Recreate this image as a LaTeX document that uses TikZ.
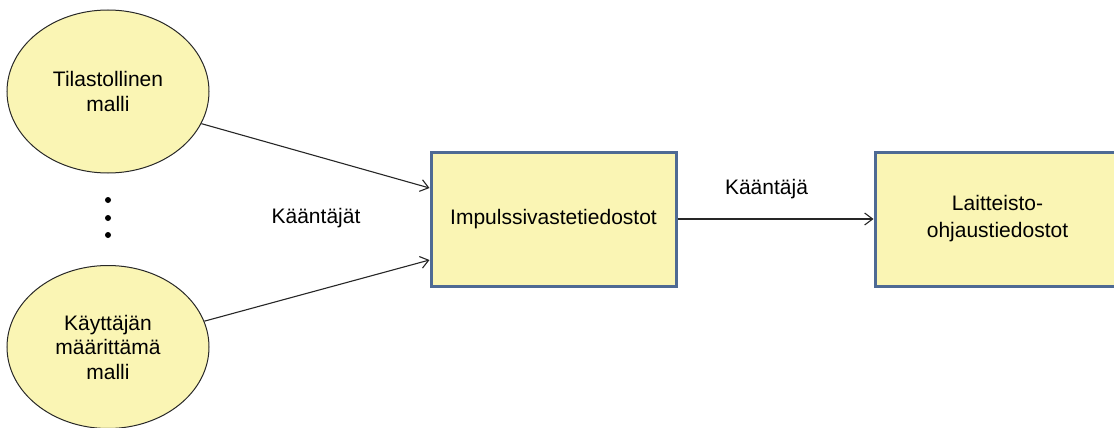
\documentclass[tikz,border=0pt]{standalone}
\usepackage{fontspec}
\setmainfont{Liberation Sans}
\usetikzlibrary{arrows.meta,shapes.geometric}

\definecolor{paleyellow}{RGB}{250,245,180}
\definecolor{steelborder}{RGB}{78,106,148}
\definecolor{outline}{RGB}{40,40,40}

\tikzset{
  model/.style={ellipse, draw=outline, line width=1pt, fill=paleyellow,
    minimum width=202pt, minimum height=163pt, inner sep=0pt,
    align=center, font=\fontsize{21}{24.5}\selectfont},
  filebox/.style={rectangle, draw=steelborder, line width=3pt, fill=paleyellow,
    minimum width=245pt, minimum height=134pt, inner sep=0pt,
    align=center, font=\fontsize{21}{27}\selectfont},
  flow/.style={draw=black!85, line width=1.1pt,
    -{Straight Barb[length=8pt,width=12pt,line width=1.1pt]}},
  caption/.style={font=\fontsize{21}{24}\selectfont},
  dot/.style={circle, fill=black, inner sep=0pt, minimum size=6pt}
}

\begin{document}
\begin{tikzpicture}[x=1pt,y=-1pt]
  \useasboundingbox (0,0) rectangle (1114,428);
  \clip (0,0) rectangle (1114,428);

  % source models
  \node[model] (stat) at (108,91.5) {Tilastollinen\\malli};
  \node[model] (user) at (108,347) {Käyttäjän\\määrittämä\\malli};

  % ellipsis between the models
  \node[dot] (d1) at (108,200) {};
  \node[dot] (d2) at (108,218) {};
  \node[dot] (d3) at (108,235) {};

  % generated files
  \node[filebox] (imp) at (553.5,219) {Impulssivastetiedostot};
  \node[filebox] (hw) at (997.5,219) {Laitteisto-\\ohjaustiedostot};

  % compilers
  \draw[flow] (stat.-19) -- ([yshift=31pt]imp.west);
  \draw[flow] (user.15) -- ([yshift=-41pt]imp.west);
  \draw[flow] (imp.east) -- (hw.west);

  \node[caption] (comps) at (316,218) {Kääntäjät};
  \node[caption] (comp) at (766.5,189) {Kääntäjä};
\end{tikzpicture}
\end{document}
